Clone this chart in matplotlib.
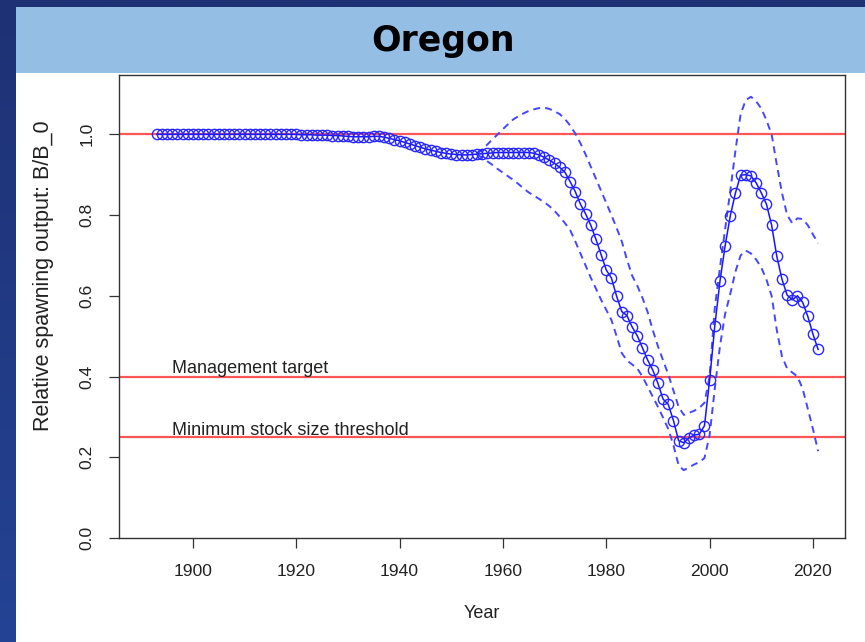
import numpy as np
import matplotlib
matplotlib.use("Agg")
import matplotlib.pyplot as plt
from matplotlib.patches import Rectangle

# ---------------- data ----------------
years = list(range(1893, 2022))
rel_spawn = [
    1.000, 1.000, 1.000, 1.000, 1.000, 1.000, 1.000,           # 1893-1899
    1.000, 1.000, 1.000, 1.000, 1.000, 1.000, 1.000, 1.000, 1.000, 1.000,  # 1900-1909
    1.000, 1.000, 1.000, 1.000, 1.000, 1.000, 1.000, 1.000, 1.000, 1.000,  # 1910-1919
    1.000, 0.999, 0.999, 0.999, 0.998, 0.998, 0.998, 0.997, 0.997, 0.996,  # 1920-1929
    0.995, 0.994, 0.994, 0.994, 0.994, 0.995, 0.995, 0.993, 0.990, 0.987,  # 1930-1939
    0.984, 0.980, 0.976, 0.972, 0.968, 0.964, 0.961, 0.958, 0.955, 0.953,  # 1940-1949
    0.951, 0.950, 0.949, 0.949, 0.950, 0.951, 0.952, 0.953, 0.954, 0.955,  # 1950-1959
    0.955, 0.955, 0.955, 0.955, 0.955, 0.955, 0.953, 0.949, 0.943, 0.936,  # 1960-1969
    0.928, 0.918, 0.906, 0.883, 0.858, 0.827, 0.803, 0.775, 0.740, 0.702,  # 1970-1979
    0.664, 0.644, 0.599, 0.561, 0.551, 0.523, 0.501, 0.471, 0.441, 0.416,  # 1980-1989
    0.383, 0.344, 0.331, 0.291, 0.241, 0.236, 0.248, 0.255, 0.257, 0.278,  # 1990-1999
    0.391, 0.525, 0.636, 0.724, 0.798, 0.855, 0.899, 0.900, 0.897, 0.880,  # 2000-2009
    0.855, 0.827, 0.775, 0.698, 0.641, 0.602, 0.590, 0.600, 0.584, 0.549,  # 2010-2019
    0.505, 0.467,                                                          # 2020-2021
]

ci_years = list(range(1955, 2022))
ci_upper = [
    0.952, 0.962, 0.975, 0.988, 1.000,                                     # 1955-1959
    1.013, 1.025, 1.037, 1.045, 1.052, 1.058, 1.062, 1.065, 1.066, 1.063,  # 1960-1969
    1.057, 1.050, 1.038, 1.022, 1.002, 0.978, 0.950, 0.920, 0.890, 0.860,  # 1970-1979
    0.830, 0.800, 0.768, 0.735, 0.690, 0.650, 0.625, 0.595, 0.560, 0.515,  # 1980-1989
    0.475, 0.440, 0.405, 0.365, 0.325, 0.305, 0.310, 0.315, 0.322, 0.335,  # 1990-1999
    0.400, 0.570, 0.670, 0.765, 0.860, 0.960, 1.050, 1.085, 1.093, 1.082,  # 2000-2009
    1.064, 1.035, 1.000, 0.925, 0.855, 0.800, 0.780, 0.792, 0.790, 0.775,  # 2010-2019
    0.752, 0.730,                                                          # 2020-2021
]
ci_lower = [
    0.950, 0.942, 0.933, 0.924, 0.914,                                     # 1955-1959
    0.905, 0.896, 0.887, 0.877, 0.866, 0.856, 0.848, 0.840, 0.832, 0.822,  # 1960-1969
    0.810, 0.796, 0.780, 0.763, 0.735, 0.705, 0.675, 0.645, 0.618, 0.590,  # 1970-1979
    0.565, 0.540, 0.500, 0.458, 0.440, 0.430, 0.420, 0.400, 0.375, 0.350,  # 1980-1989
    0.325, 0.298, 0.270, 0.230, 0.180, 0.168, 0.175, 0.182, 0.188, 0.198,  # 1990-1999
    0.255, 0.370, 0.475, 0.555, 0.605, 0.660, 0.700, 0.712, 0.705, 0.690,  # 2000-2009
    0.670, 0.640, 0.600, 0.515, 0.450, 0.420, 0.410, 0.400, 0.370, 0.320,  # 2010-2019
    0.270, 0.215,                                                          # 2020-2021
]

ref_levels = [1.0, 0.4, 0.25]
ref_labels = ["", "Management target", "Minimum stock size threshold"]
x_ticks = [1900, 1920, 1940, 1960, 1980, 2000, 2020]
y_ticks = [0.0, 0.2, 0.4, 0.6, 0.8, 1.0]

# ---------------- figure ----------------
W, H = 865, 642
fig = plt.figure(figsize=(W / 100, H / 100), dpi=100)
fig.patch.set_facecolor("white")

FONT = ["Liberation Sans", "DejaVu Sans"]

# slide background
bg = fig.add_axes([0, 0, 1, 1], zorder=0)
grad = np.linspace(0, 1, 256).reshape(-1, 1)
top_c = np.array([30, 49, 116]) / 255
bot_c = np.array([36, 67, 148]) / 255
img = top_c[None, None, :] * (1 - grad[:, :, None]) + bot_c[None, None, :] * grad[:, :, None]
bg.imshow(img, extent=[0, W, H, 0], aspect="auto")
bg.add_patch(Rectangle((16, 73), W - 16, H - 73, facecolor="white", edgecolor="none"))
bg.add_patch(Rectangle((16, 7), W - 16, 66, facecolor="#94BEE4", edgecolor="none"))
bg.set_xlim(0, W)
bg.set_ylim(H, 0)
bg.axis("off")
bg.text(443, 41, "Oregon", ha="center", va="center", fontsize=25,
        fontweight="bold", family="DejaVu Sans", color="black")

# plot axes (pixel box: left 119, right 845, top 75, bottom 538)
L, R_, T, B = 119, 845, 75, 538
ax = fig.add_axes([L / W, 1 - B / H, (R_ - L) / W, (B - T) / H], zorder=1)
ax.set_facecolor("white")

for lvl in ref_levels:
    ax.axhline(lvl, color="#FF5555", lw=1.6, zorder=1)

dash = (0, (3.6, 2.6))
ax.plot(ci_years, ci_upper, color="#4646FF", lw=1.4, ls=dash, zorder=2)
ax.plot(ci_years, ci_lower, color="#4646FF", lw=1.4, ls=dash, zorder=2)

ax.plot(years, rel_spawn, color="#1515FF", lw=1.1, marker="o", ms=7.4,
        mfc="none", mec="#2626FF", mew=1.0, zorder=3)

ax.text(1896, 0.409, ref_labels[1], ha="left", va="baseline",
        fontsize=13, family=FONT, color="#222222")
ax.text(1896, 0.256, ref_labels[2], ha="left", va="baseline",
        fontsize=13, family=FONT, color="#222222")

ax.set_xlim(1885.7, 2026.2)
ax.set_ylim(0, 1.147)
ax.set_xticks(x_ticks)
ax.set_yticks(y_ticks)
ax.set_xticklabels([str(t) for t in x_ticks], family=FONT)
ax.set_yticklabels([f"{t:.1f}" for t in y_ticks], family=FONT,
                   rotation=90, va="center")

for sp in ax.spines.values():
    sp.set_color("#333333")
    sp.set_linewidth(1.0)

ax.tick_params(axis="both", direction="out", length=7.5, width=0.9,
               color="#333333", labelsize=12.6, labelcolor="#222222")
ax.tick_params(axis="x", pad=11)
ax.tick_params(axis="y", pad=10)

fig.text(482 / W, 1 - 614 / H, "Year", ha="center", va="center",
         fontsize=13, family=FONT, color="#222222")
fig.text(44 / W, 1 - 276 / H, "Relative spawning output: B/B_0",
         ha="center", va="center", rotation=90, fontsize=15.5,
         family=FONT, color="#222222")

fig.savefig("out.png", dpi=100, facecolor=fig.get_facecolor())
